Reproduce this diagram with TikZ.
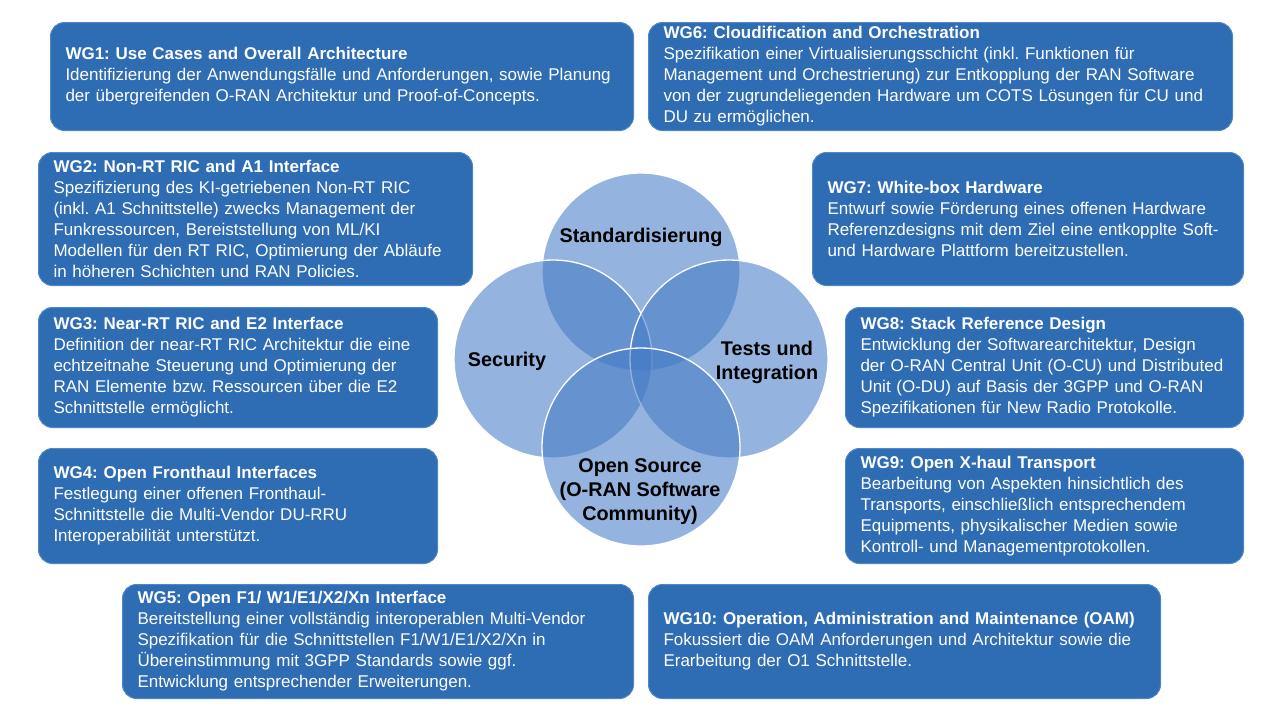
\documentclass[tikz,border=0pt]{standalone}
\usepackage{fontspec}
\setmainfont{Liberation Sans}
\frenchspacing
\hyphenpenalty=10000
\definecolor{wgblue}{HTML}{2E6DB4}
\definecolor{wgedge}{HTML}{4F86C6}
\definecolor{vennblue}{RGB}{67,122,197}

\begin{document}
\begin{tikzpicture}[x=1pt, y=-1pt,
        wg/.style={rectangle, rounded corners=14pt, fill=wgblue, draw=wgedge, line width=1pt,
            text=white, anchor=north west, align=left, inner xsep=15pt, inner ysep=0pt,
            font=\fontsize{17}{21}\selectfont},
        venn/.style={fill=vennblue, fill opacity=0.57, draw=white, line width=1.3pt},
        lbl/.style={align=center, font=\fontsize{19.8}{24}\selectfont\bfseries}]
        \useasboundingbox (0,0) rectangle (1280,721);

        \node[wg, text width=553pt, minimum height=108pt] (wg1) at (50,22)
            {\textbf{WG1: Use Cases and Overall Architecture}\\
             Identifizierung der Anwendungsfälle und Anforderungen, sowie Planung\\
             der übergreifenden O-RAN Architektur und Proof-of-Concepts.};
        \node[wg, text width=404pt, minimum height=133pt] (wg2) at (38,152)
            {\textbf{WG2: Non-RT RIC and A1 Interface}\\
             Spezifizierung des KI-getriebenen Non-RT RIC\\
             (inkl. A1 Schnittstelle) zwecks Management der\\
             Funkressourcen, Bereiststellung von ML/KI\\
             Modellen für den RT RIC, Optimierung der Abläufe\\
             in höheren Schichten und RAN Policies.};
        \node[wg, text width=369pt, minimum height=120pt] (wg3) at (38,307)
            {\textbf{WG3: Near-RT RIC and E2 Interface}\\
             Definition der near-RT RIC Architektur die eine\\
             echtzeitnahe Steuerung und Optimierung der\\
             RAN Elemente bzw. Ressourcen über die E2\\
             Schnittstelle ermöglicht.};
        \node[wg, text width=369pt, minimum height=115pt] (wg4) at (38,448)
            {\textbf{WG4: Open Fronthaul Interfaces}\\
             Festlegung einer offenen Fronthaul-\\
             Schnittstelle die Multi-Vendor DU-RRU\\
             Interoperabilität unterstützt.};
        \node[wg, text width=481pt, minimum height=114pt] (wg5) at (122,584)
            {\textbf{WG5: Open F1/ W1/E1/X2/Xn Interface}\\
             Bereitstellung einer vollständig interoperablen Multi-Vendor\\
             Spezifikation für die Schnittstellen F1/W1/E1/X2/Xn in\\
             Übereinstimmung mit 3GPP Standards sowie ggf.\\
             Entwicklung entsprechender Erweiterungen.};
        \node[wg, text width=554pt, minimum height=108pt] (wg6) at (648,22)
            {\textbf{WG6: Cloudification and Orchestration}\\
             Spezifikation einer Virtualisierungsschicht (inkl. Funktionen für\\
             Management und Orchestrierung) zur Entkopplung der RAN Software\\
             von der zugrundeliegenden Hardware um COTS Lösungen für CU und\\
             DU zu ermöglichen.};
        \node[wg, text width=401pt, minimum height=133pt] (wg7) at (812,152)
            {\textbf{WG7: White-box Hardware}\\
             Entwurf sowie Förderung eines offenen Hardware\\
             Referenzdesigns mit dem Ziel eine entkopplte Soft-\\
             und Hardware Plattform bereitzustellen.};
        \node[wg, text width=368pt, minimum height=120pt] (wg8) at (845,307)
            {\textbf{WG8: Stack Reference Design}\\
             Entwicklung der Softwarearchitektur, Design\\
             der O-RAN Central Unit (O-CU) und Distributed\\
             Unit (O-DU) auf Basis der 3GPP und O-RAN\\
             Spezifikationen für New Radio Protokolle.};
        \node[wg, text width=368pt, minimum height=115pt] (wg9) at (845,448)
            {\textbf{WG9: Open X-haul Transport}\\
             Bearbeitung von Aspekten hinsichtlich des\\
             Transports, einschließlich entsprechendem\\
             Equipments, physikalischer Medien sowie\\
             Kontroll- und Managementprotokollen.};
        \node[wg, text width=482pt, minimum height=114pt] (wg10) at (648,584)
            {\textbf{WG10: Operation, Administration and Maintenance (OAM)}\\
             Fokussiert die OAM Anforderungen und Architektur sowie die\\
             Erarbeitung der O1 Schnittstelle.};

        \foreach \cx/\cy in {641/272, 553/359, 729/359, 641/447}
            \draw[venn] (\cx,\cy) circle[radius=99pt];

        \node[lbl] (std) at (641,237) {Standardisierung};
        \node[lbl] (sec) at (507,361) {Security};
        \node[lbl] (tests) at (767,362) {Tests und\\Integration};
        \node[lbl] (oss) at (640,492) {Open Source\\(O-RAN Software\\Community)};
    \end{tikzpicture}
\end{document}
